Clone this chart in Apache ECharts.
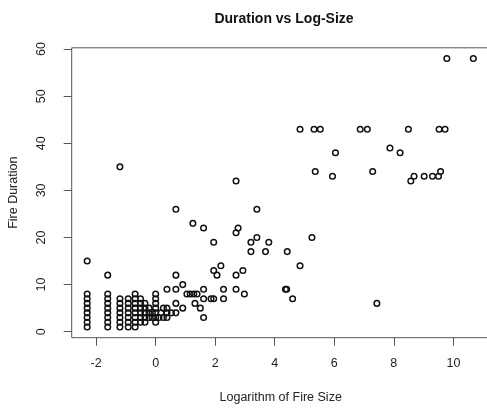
<!DOCTYPE html>
<html>
<head>
<meta charset="utf-8">
<script src="https://cdn.jsdelivr.net/npm/echarts@6/dist/echarts.min.js"></script>
<style>
html,body{margin:0;padding:0;background:#fff;}
#chart{width:487px;height:409px;}
</style>
</head>
<body>
<div id="chart"></div>
<script>
// Data
var logSize = [
  -2.30,-2.30,-2.30,-2.30,-2.30,-2.30,-2.30,-2.30,-2.30,
  -1.61,-1.61,-1.61,-1.61,-1.61,-1.61,-1.61,-1.61,-1.61,
  -1.20,-1.20,-1.20,-1.20,-1.20,-1.20,-1.20,-1.20,
  -0.92,-0.92,-0.92,-0.92,-0.92,-0.92,-0.92,
  -0.69,-0.69,-0.69,-0.69,-0.69,-0.69,-0.69,-0.69,
  -0.51,-0.51,-0.51,-0.51,-0.51,-0.51,
  -0.36,-0.36,-0.36,-0.36,-0.36,
  -0.22,-0.22,-0.22,
  -0.11,-0.11,
  0.00,0.00,0.00,0.00,0.00,0.00,0.00,
  0.11,0.18,0.26,0.26,
  0.38,0.38,0.38,0.38,
  0.53,
  0.68,0.68,0.68,0.68,0.68,
  0.91,0.91,
  1.05,1.16,1.28,1.39,
  1.25,1.32,1.50,
  1.61,1.61,1.61,1.61,
  1.86,1.95,1.95,1.95,
  2.06,2.19,2.28,2.28,
  2.70,2.70,2.70,2.70,2.77,2.93,2.98,
  3.20,3.20,3.40,3.40,3.69,3.80,
  4.36,4.40,4.42,4.60,4.85,4.85,
  5.25,5.32,5.53,5.36,5.94,6.04,
  6.87,7.11,7.29,7.43,7.87,8.21,
  8.49,8.57,8.68,9.02,9.30,9.50,9.57,9.52,9.72,
  9.78,10.67
];
var duration = [
  1,2,3,4,5,6,7,8,15,
  1,2,3,4,5,6,7,8,12,
  1,2,3,4,5,6,7,35,
  1,2,3,4,5,6,7,
  1,2,3,4,5,6,7,8,
  2,3,4,5,6,7,
  2,3,4,5,6,
  3,4,5,
  3,4,
  2,3,4,5,6,7,8,
  3,4,3,5,
  3,4,5,9,
  4,
  4,6,9,12,26,
  5,10,
  8,8,8,8,
  23,6,5,
  3,7,9,22,
  7,7,13,19,
  12,14,7,9,
  9,12,21,32,22,13,8,
  17,19,20,26,17,19,
  9,9,17,7,14,43,
  20,43,43,34,33,38,
  43,43,34,6,39,38,
  43,32,33,33,33,33,34,43,43,
  58,58
];
var xTicks = [-2, 0, 2, 4, 6, 8, 10];
var yTicks = [0, 10, 20, 30, 40, 50, 60];
var titleText = 'Duration vs Log-Size';
var xTitle = 'Logarithm of Fire Size';
var yTitle = 'Fire Duration';

var points = logSize.map(function (x, i) { return [x, duration[i]]; });

var chart = echarts.init(document.getElementById('chart'), null, {renderer: 'canvas'});
var font = 'Liberation Sans, Arial, Helvetica, sans-serif';
chart.setOption({
  animation: false,
  backgroundColor: '#ffffff',
  title: {
    text: titleText,
    left: 279,
    top: 7,
    textAlign: 'center',
    textStyle: {fontFamily: font, fontSize: 14, fontWeight: 'bold', color: '#111'}
  },
  grid: {
    left: 71.7, top: 47.8, right: -2.7, bottom: 71.3,
    show: true, borderColor: '#555', borderWidth: 1,
    backgroundColor: 'transparent',
    containLabel: false,
    outerBoundsMode: 'none'
  },
  xAxis: {
    type: 'value',
    min: -2.82, max: 11.22,
    name: xTitle, nameLocation: 'middle', nameGap: 53,
    nameTextStyle: {fontFamily: font, fontSize: 12.5, color: '#222'},
    axisLine: {show: false, onZero: false},
    splitLine: {show: false},
    axisTick: {show: true, customValues: xTicks, length: 8, lineStyle: {color: '#555', width: 1}},
    axisLabel: {customValues: xTicks, margin: 19, fontFamily: font, fontSize: 12.5, color: '#222'}
  },
  yAxis: {
    type: 'value',
    min: -1.28, max: 60.28,
    name: yTitle, nameLocation: 'middle', nameGap: 52,
    nameTextStyle: {fontFamily: font, fontSize: 12.5, color: '#222'},
    axisLine: {show: false, onZero: false},
    splitLine: {show: false},
    axisTick: {show: true, customValues: yTicks, length: 8, lineStyle: {color: '#555', width: 1}},
    axisLabel: {customValues: yTicks, rotate: 90, margin: 24, fontFamily: font, fontSize: 12.5, color: '#222'}
  },
  series: [{
    type: 'scatter',
    data: points,
    symbol: 'circle',
    symbolSize: 5.6,
    itemStyle: {color: 'rgba(0,0,0,0)', borderColor: '#111', borderWidth: 1.5, opacity: 1},
    emphasis: {disabled: true}
  }]
});
</script>
</body>
</html>
